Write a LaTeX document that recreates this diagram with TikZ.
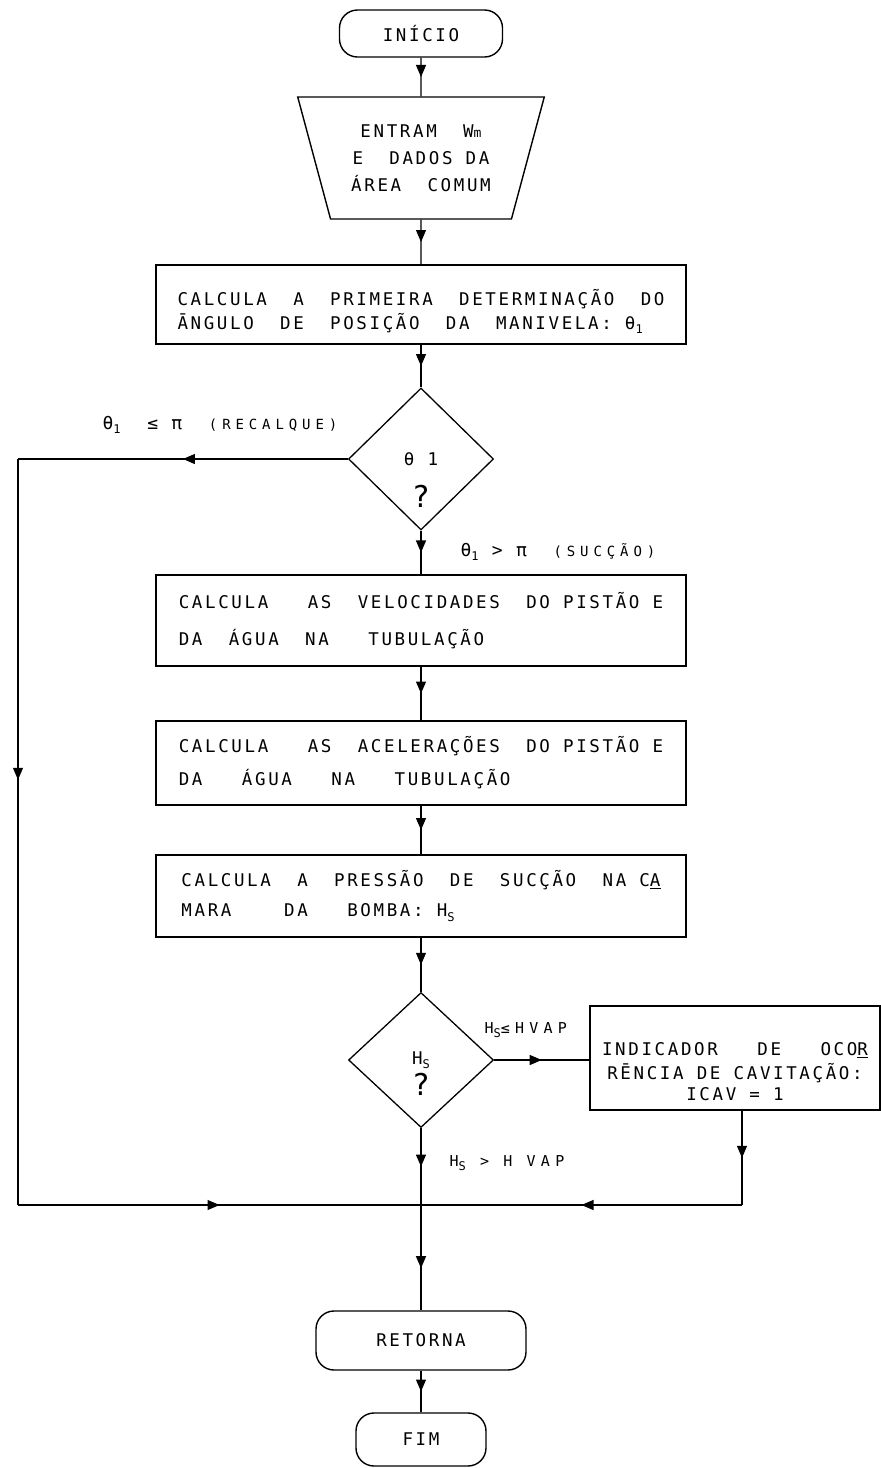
\documentclass[tikz,border=0pt]{standalone}
\usepackage{fontspec}
\usetikzlibrary{shapes.geometric,arrows.meta,decorations.markings}
\newfontfamily\maquina[LetterSpace=15]{DejaVu Sans Mono}
\newfontfamily\maqlarga[LetterSpace=35]{DejaVu Sans Mono}
\newcommand{\ind}[1]{\raisebox{-0.45ex}{\fontsize{12}{12}\selectfont #1}}
\newcommand{\grande}[1]{{\maquina\fontsize{18}{18}\selectfont #1}}

\begin{document}
\begin{tikzpicture}[x=1pt, y=-1pt, line width=1.1pt,
  font=\maquina\fontsize{17.5}{24}\selectfont,
  term/.style = {draw, rectangle, rounded corners=18pt, line width=1.4pt, inner sep=0pt},
  proc/.style = {draw, rectangle, line width=1.4pt, minimum width=530pt, align=left, inner sep=0pt},
  dec/.style = {draw, diamond, line width=1.3pt, minimum width=145pt, minimum height=142pt, inner sep=0pt},
  io/.style = {draw, trapezium, shape border rotate=180, trapezium angle=69.3, trapezium stretches=true, line width=1.4pt, minimum width=247pt, minimum height=122pt, align=center, inner sep=0pt},
  flow/.style = {postaction={decorate}, decoration={markings, mark=at position #1 with {\arrow{Triangle[length=12pt,width=10pt]}}}},
  flow/.default = 0.5,
  lbl/.style = {inner sep=0pt, anchor=west, font=\maqlarga\fontsize{14}{14}\selectfont},
  qm/.style = {inner sep=0pt, font=\maquina\fontsize{30}{30}\selectfont}]
  \useasboundingbox (0,0) rectangle (881,1468);
  \node[term, minimum width=163pt, minimum height=47pt] (1) at (421,33.5) {INÍCIO};
  \node[io] (2) at (421,158) {ENTRAM~ W{\fontsize{13}{13}\selectfont m}\\[3pt]E~ DADOS DA\\[3pt]ÁREA~ COMUM};
  \node[proc, minimum height=79pt] (3) at (421,304.5) {\rule{0pt}{30pt}CALCULA~ A~ PRIMEIRA~ DETERMINAÇÃO~ DO\\ĀNGULO~ DE~ POSIÇÃO~ DA~ MANIVELA:~θ\ind{1}};
  \node[dec] (4) at (421,459) {θ 1};
  \node[qm] (20) at (421,496) {?};
  \node[proc, minimum height=91pt] (5) at (421,620.5) {CALCULA~~ AS~ VELOCIDADES~ DO PISTÃO E\\[13pt]DA~ ÁGUA~ NA~~ TUBULAÇÃO};
  \node[proc, minimum height=84pt] (6) at (421,763) {CALCULA~~ AS~ ACELERAÇÕES~ DO PISTÃO E\\[9pt]DA~~ ÁGUA~~ NA~~ TUBULAÇÃO};
  \node[proc, minimum height=82pt] (7) at (421,896) {CALCULA~ A~ PRESSÃO~ DE~ SUCÇÃO~ NA C\underline{A}\\[6pt]MARA~~~ DA~~ BOMBA:~H\ind{S}};
  \node[dec, minimum height=135pt] (8) at (421,1060) {H\ind{S}};
  \node[qm] (21) at (421,1084) {?};
  \node[proc, minimum width=290pt, minimum height=104pt, align=center] (9) at (735,1058) {\rule{0pt}{40pt}INDICADOR~~ DE~~ OCO\underline{R}\\RĒNCIA DE CAVITAÇÃO:\\[-3pt]ICAV = 1};
  \node[term, minimum width=210pt, minimum height=59pt] (10) at (421,1340.5) {RETORNA};
  \node[term, minimum width=130pt, minimum height=53pt] (11) at (421,1439.5) {FIM};
  \coordinate (12) at (18,459);
  \coordinate (13) at (18,1205);
  \coordinate (14) at (421,1205);
  \coordinate (15) at (742,1205);
  \node[lbl] (16) at (102,425) {\grande{θ}\ind{1}~ \grande{≤} \grande{π}~ (RECALQUE)};
  \node[lbl] (17) at (460,552) {\grande{θ}\ind{1} \grande{>} \grande{π}~ (SUCÇÃO)};
  \node[lbl, font=\maqlarga\fontsize{15}{15}\selectfont] (18) at (484,1030) {H\ind{S}≤HVAP};
  \node[lbl, font=\maqlarga\fontsize{15}{15}\selectfont] (19) at (449,1163) {H\ind{S} > H VAP};
  \draw[flow] (1) -- (2);
  \draw[flow] (2) -- (3);
  \draw[flow] (3) -- (4);
  \draw[flow] (4) -- (5);
  \draw[flow] (5) -- (6);
  \draw[flow] (6) -- (7);
  \draw[flow] (7) -- (8);
  \draw[flow] (4) -- (12);
  \draw[flow=0.43] (12) -- (13);
  \draw[flow] (13) -- (14);
  \draw[flow] (8) -- (8 -| 9.west);
  \draw[flow] (9.south -| 15) -- (15);
  \draw[flow] (15) -- (14);
  \draw[flow] (8) -- (14);
  \draw[flow=0.6] (14) -- (10);
  \draw[flow] (10) -- (11);
\end{tikzpicture}
\end{document}
